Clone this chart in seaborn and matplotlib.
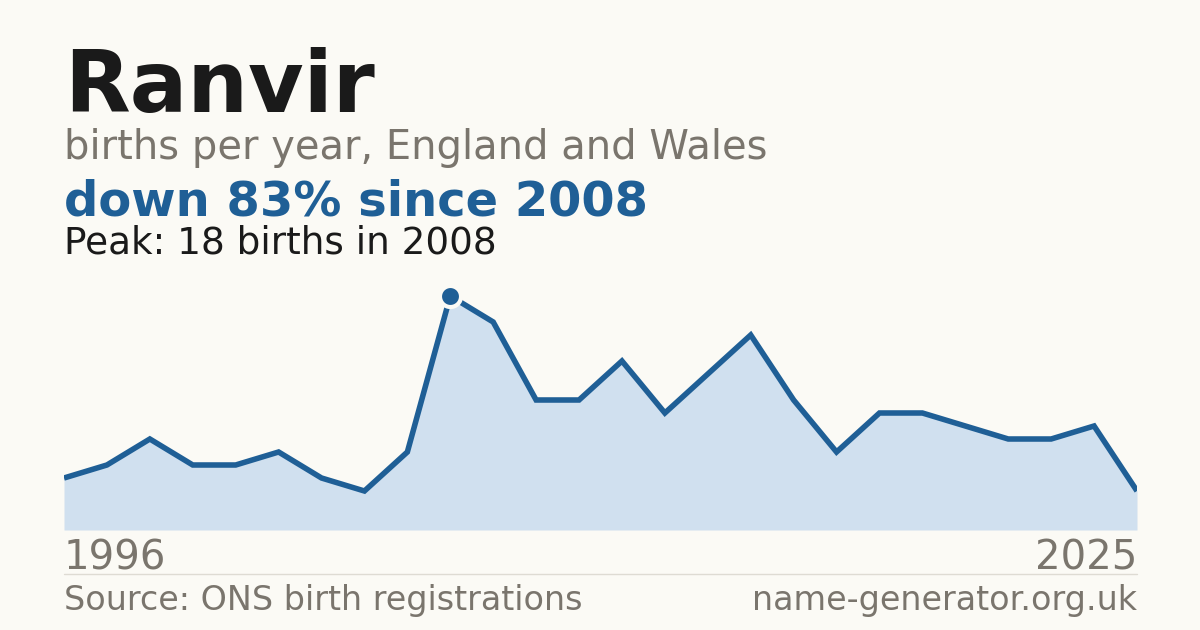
import numpy as np
import pandas as pd
import seaborn as sns
import matplotlib
import matplotlib.pyplot as plt
matplotlib.use('Agg')

# 数据
years = [1996, 1997, 1998, 2000, 2001, 2003, 2005, 2006, 2007, 2008,
         2009, 2010, 2011, 2012, 2013, 2014, 2015, 2016, 2017, 2018,
         2019, 2021, 2022, 2023, 2024, 2025]
births = [4, 5, 7, 5, 5, 6, 4, 3, 6, 18,
          16, 10, 10, 13, 9, 12, 15, 10, 6, 9,
          9, 8, 7, 7, 8, 3]

name = "Ranvir"
subtitle = "births per year, England and Wales"
change_text = "down 83% since 2008"
peak_text = "Peak: 18 births in 2008"
source_text = "Source: ONS birth registrations"
site_text = "name-generator.org.uk"

bg = '#fbfaf5'
blue = '#1f5f96'
fill = '#d0e0ef'
grey = '#7a756d'
dark = '#1a1a1a'

sns.set_style('white')
plt.rcParams['font.family'] = ['DejaVu Sans']

df = pd.DataFrame({'idx': np.arange(len(years)), 'year': years, 'births': births})

fig = plt.figure(figsize=(12, 6.3), dpi=100, facecolor=bg)
ax = fig.add_axes([64 / 1200, 100 / 630, 1073 / 1200, 234 / 630])
ax.set_facecolor(bg)

ax.fill_between(df['idx'], df['births'], 0, color=fill, lw=0)
sns.lineplot(data=df, x='idx', y='births', ax=ax, color=blue, lw=4,
             solid_joinstyle='miter', solid_capstyle='butt')

# 峰值标记
pk = df['births'].idxmax()
ax.scatter([df.loc[pk, 'idx']], [df.loc[pk, 'births']], s=230, color=blue,
           edgecolor=bg, linewidth=3, zorder=5, clip_on=False)

ax.set_xlim(0, len(years) - 1)
ax.set_ylim(0, max(births))
ax.axis('off')

fig.text(64 / 1200, 1 - 112 / 630, name, fontsize=61.5, fontweight='bold', color=dark)
fig.text(64 / 1200, 1 - 159 / 630, subtitle, fontsize=28.8, color=grey)
fig.text(64 / 1200, 1 - 215 / 630, change_text, fontsize=34.6, fontweight='bold', color=blue)
fig.text(64 / 1200, 1 - 254 / 630, peak_text, fontsize=26.9, color=dark)

fig.text(64 / 1200, 1 - 570 / 630, str(years[0]), fontsize=28.9, color=grey)
fig.text(1137 / 1200, 1 - 570 / 630, str(years[-1]), fontsize=28.9, color=grey, ha='right')

fig.add_artist(plt.Line2D([64 / 1200, 1137 / 1200], [1 - 574 / 630, 1 - 574 / 630],
                          color='#dedbd3', lw=1))

fig.text(64 / 1200, 1 - 610 / 630, source_text, fontsize=24, color=grey)
fig.text(1137 / 1200, 1 - 610 / 630, site_text, fontsize=24, color=grey, ha='right')

fig.savefig('out.png', dpi=100, facecolor=bg)
